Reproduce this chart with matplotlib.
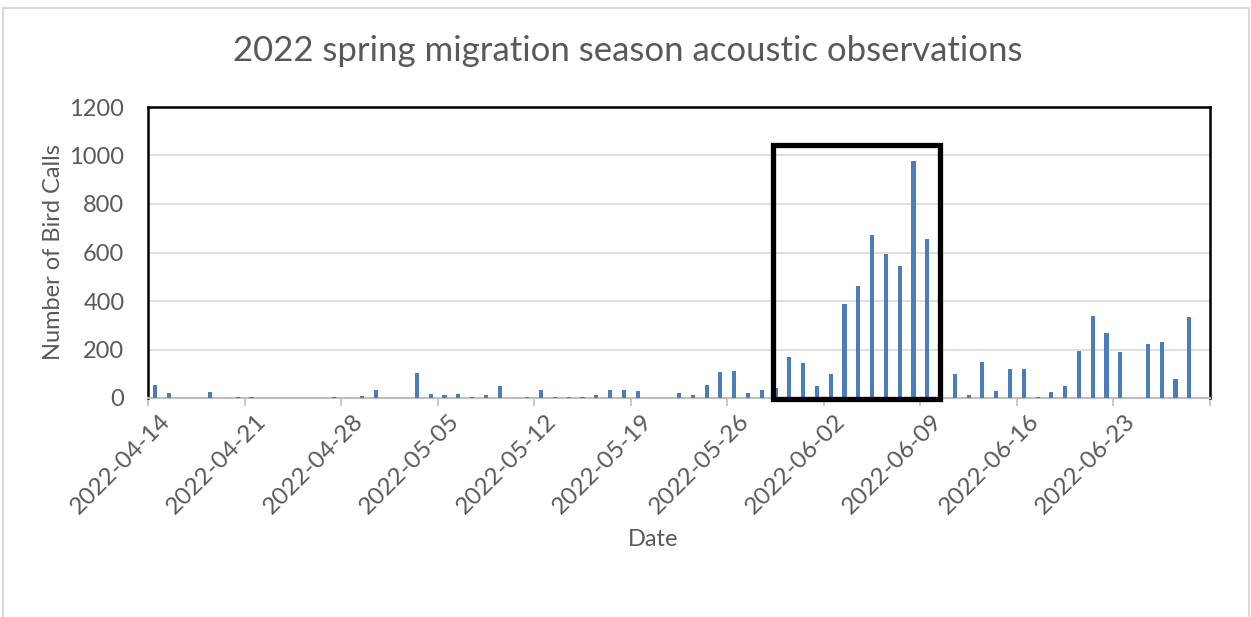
import numpy as np
import pandas as pd
import matplotlib
matplotlib.use("Agg")
import matplotlib.pyplot as plt
from matplotlib.patches import Rectangle

# Данные: ежедневное число криков птиц, 2022-04-14 .. 2022-06-29
dates = pd.date_range("2022-04-14", "2022-06-29", freq="D")
calls = [
    55, 22, 0, 0, 26, 0, 3, 4, 0, 0,          # 04-14 .. 04-23
    0, 0, 0, 3, 0, 7, 31, 0, 0, 105,          # 04-24 .. 05-03
    18, 14, 18, 4, 12, 49, 0, 5, 35, 3,       # 05-04 .. 05-13
    3, 3, 11, 31, 31, 27, 0, 0, 21, 12,       # 05-14 .. 05-23
    52, 106, 111, 20, 31, 43, 170, 145, 50, 100,  # 05-24 .. 06-02
    388, 463, 674, 592, 543, 979, 654, 0, 101, 14,  # 06-03 .. 06-12
    150, 30, 121, 119, 5, 26, 51, 192, 338, 266,    # 06-13 .. 06-22
    188, 0, 222, 229, 80, 332, 0,                  # 06-23 .. 06-29
]
tick_step = 7
highlight = (44.82, -4, 56.93, 1043)  # рамка вокруг пика (x0, y0, x1, y1)

text_color = "#595959"
bar_color = "#4a7ebb"
plt.rcParams["font.family"] = ["Lato", "DejaVu Sans"]

fig = plt.figure(figsize=(12.51, 6.17), dpi=100)
ax = fig.add_axes([148 / 1251, 1 - 398 / 617, (1210 - 148) / 1251, (398 - 107) / 617])

x = np.arange(len(calls))
ax.bar(x, calls, width=0.3, color=bar_color, zorder=3)

ax.set_xlim(-0.5, len(calls) - 0.5)
ax.set_ylim(0, 1200)
ax.set_yticks(np.arange(0, 1201, 200))
ax.grid(axis="y", color="#d9d9d9", linewidth=1.2, zorder=0)

# Засечки по границам категорий, подписи — по центру категории
ax.set_xticks(np.arange(-0.5, len(calls), tick_step))
ax.set_xticklabels([])
ax.tick_params(axis="x", length=6, color="#bfbfbf", width=1.2)
ax.tick_params(axis="y", length=0, labelsize=17, labelcolor=text_color, pad=17)
lbl_idx = np.arange(0, len(calls), tick_step)
for i in lbl_idx:
    ax.text(i + 0.3, -50, dates[i].strftime("%Y-%m-%d"), rotation=45,
            ha="right", va="top", rotation_mode="anchor",
            fontsize=17.5, color=text_color, transform=ax.transData)

for side in ["top", "right", "left"]:
    ax.spines[side].set_color("black")
    ax.spines[side].set_linewidth(1.8)
ax.spines["bottom"].set_color("#bfbfbf")
ax.spines["bottom"].set_linewidth(1.5)

ax.set_ylabel("Number of Bird Calls", fontsize=17, color=text_color, labelpad=4)
fig.text(653 / 1251, 1 - 540 / 617, "Date", ha="center", va="center",
         fontsize=17, color=text_color)
fig.text(628 / 1251, 1 - 51 / 617, "2022 spring migration season acoustic observations",
         ha="center", va="center", fontsize=25, color=text_color)

# Рамка выделения пика миграции
x0, y0, x1, y1 = highlight
ax.add_patch(Rectangle((x0, y0), x1 - x0, y1 - y0, fill=False, edgecolor="black",
                       linewidth=3.8, clip_on=False, zorder=5))

# Граница области диаграммы
fig.patches.append(Rectangle((3 / 1251, -0.01), 1246 / 1251, 1 - 8 / 617 + 0.01,
                             transform=fig.transFigure, fill=False,
                             edgecolor="#d9d9d9", linewidth=1.5))

fig.savefig("out.png", dpi=100)
